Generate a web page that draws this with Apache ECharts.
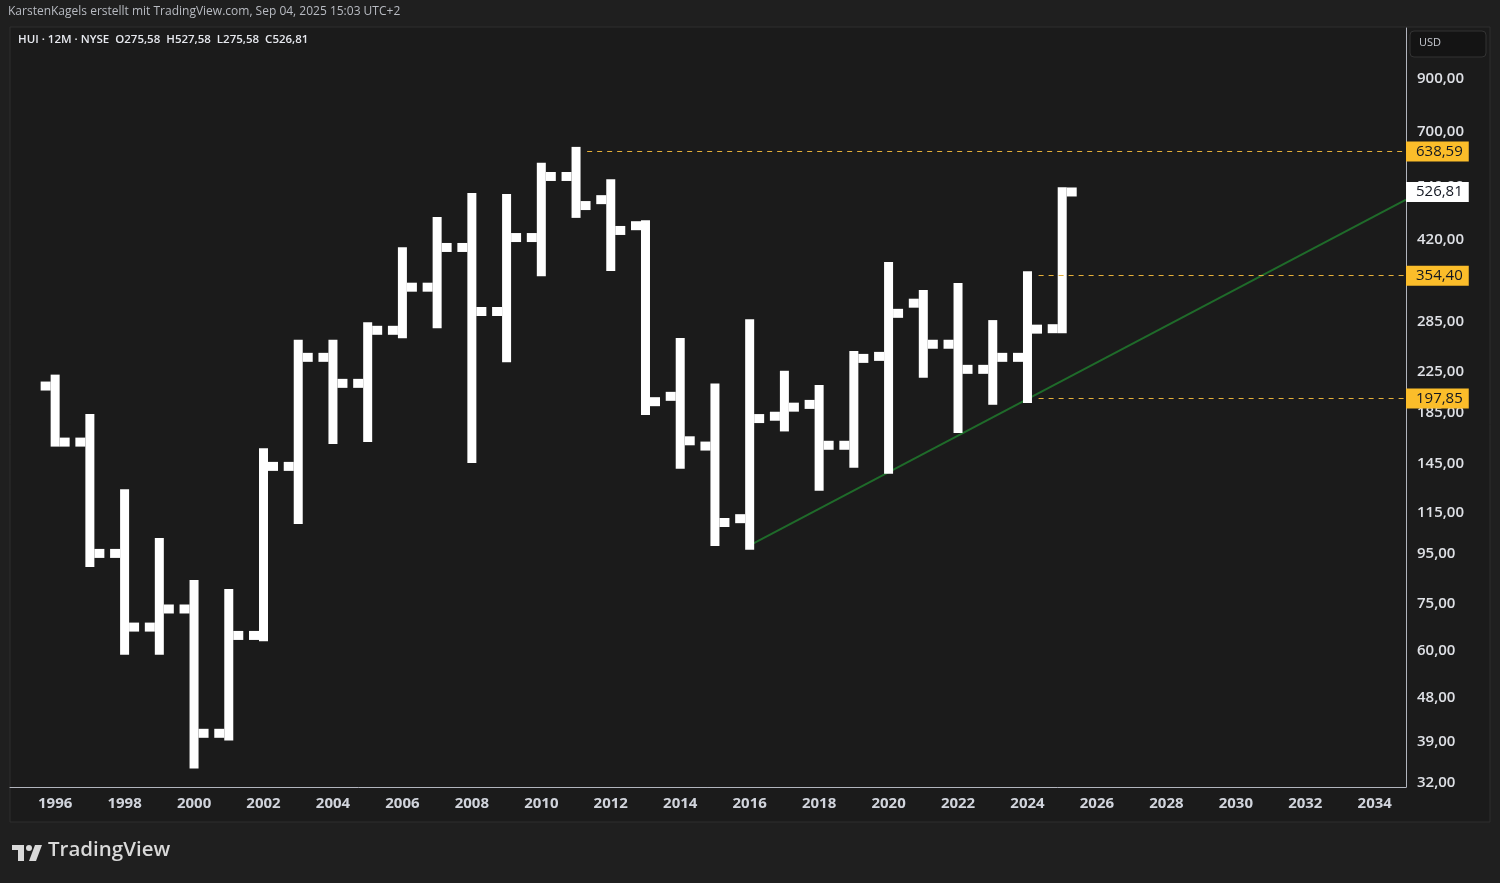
<!DOCTYPE html>
<html>
<head>
<meta charset="utf-8">
<title>HUI 12M</title>
<script src="https://cdn.jsdelivr.net/npm/echarts@6/dist/echarts.min.js"></script>
<style>
    html, body { margin: 0; padding: 0; background: #1f1f1f; }
    #chart { width: 1500px; height: 883px; }
</style>
</head>
<body>
<div id="chart"></div>
<script>
// yearly bars
var years  = [1996, 1997, 1998, 1999, 2000, 2001, 2002, 2003, 2004, 2005,
              2006, 2007, 2008, 2009, 2010, 2011, 2012, 2013, 2014, 2015,
              2016, 2017, 2018, 2019, 2020, 2021, 2022, 2023, 2024, 2025];
var opens  = [210, 161, 95, 67, 73, 40.5, 64.4, 143.5, 240.6, 212.7,
              273.5, 335.5, 405, 299, 424.5, 567, 508, 449, 200, 158,
              112, 182, 192.5, 158.6, 241.7, 311, 256, 227.3, 240.6, 275.58];
var highs  = [217, 180, 126, 100, 82, 78.6, 153, 256, 256, 278,
              397, 458, 513, 511, 592, 638.59, 548, 451, 258, 208,
              282, 221, 206.5, 242.6, 370, 324, 335, 281, 354.40, 527.58];
var lows   = [161, 91, 60, 60, 35, 40, 64, 111.5, 163, 164.5,
              269, 282, 149, 240, 361, 476, 370, 187, 145, 100.5,
              98.7, 173, 130.6, 145.6, 141.6, 223, 171.7, 196.3, 197.85, 275.58];
var closes = [161, 95, 67, 73, 40.5, 64.4, 143.5, 240.6, 212.7, 273.5,
              335.5, 405, 299, 424.5, 567, 494, 439, 195, 162, 110,
              180, 190, 158.6, 239.4, 296.4, 256, 227.3, 240.6, 275, 526.81];

// price axis and time axis labels
var priceTicks = [32, 39, 48, 60, 75, 95, 115, 145, 185, 225, 285, 420, 540, 700, 900];
var yearTicks = [1996, 1998, 2000, 2002, 2004, 2006, 2008, 2010, 2012, 2014, 2016,
                 2018, 2020, 2022, 2024, 2026, 2028, 2030, 2032, 2034];

// horizontal levels (start year, price)
var levelYears  = [2011, 2024, 2024];
var levelPrices = [638.59, 354.40, 197.85];

// trend line through the lows
var trendX = [2016, 2034.9];
var trendY = [98.7, 508];

var xMin = 1994.7, xMax = 2034.9;

(function () {
    let chart = echarts.init(document.querySelector("#chart"));

    function fmt(v) {
        return v.toFixed(2).replace('.', ',');
    }

    var bars = years.map(function (y, i) {
        return [y, opens[i], highs[i], lows[i], closes[i]];
    });

    function renderItem(params, api) {
        var x = api.value(0);
        var pO = api.coord([x, api.value(1)]);
        var pH = api.coord([x, api.value(2)]);
        var pL = api.coord([x, api.value(3)]);
        var pC = api.coord([x, api.value(4)]);
        var half = 4.5, tick = 10;
        var style = { fill: '#ffffff' };
        return {
            type: 'group',
            children: [
                { type: 'rect', shape: { x: pH[0] - half, y: pH[1] - half, width: half * 2, height: pL[1] - pH[1] + half * 2 }, style: style },
                { type: 'rect', shape: { x: pO[0] - half - tick, y: pO[1] - half, width: tick, height: half * 2 }, style: style },
                { type: 'rect', shape: { x: pC[0] + half, y: pC[1] - half, width: tick, height: half * 2 }, style: style }
            ]
        };
    }

    function tagLabel(bg) {
        return {
            show: true,
            position: 'end',
            distance: 0,
            formatter: function (p) { return fmt(p.value); },
            backgroundColor: bg,
            color: '#131722',
            fontFamily: 'Open Sans',
            fontSize: 15,
            lineHeight: 17,
            padding: [2, 6, 1, 10]
        };
    }

    var levelLines = levelPrices.map(function (v, i) {
        return [
            { coord: [levelYears[i] + 0.32, v], value: v },
            { coord: [xMax, v], value: v }
        ];
    });

    var last = years.length - 1;
    var curLine = [
        { coord: [years[last] + 0.32, closes[last]], value: closes[last] },
        { coord: [xMax, closes[last]], value: closes[last] }
    ];

    var legendText = 'HUI · 12M · NYSE  O' + fmt(opens[last]) + '  H' + fmt(highs[last]) +
        '  L' + fmt(lows[last]) + '  C' + fmt(closes[last]);

    let option = {
        backgroundColor: '#1f1f1f',
        animation: false,
        textStyle: { fontFamily: 'Open Sans' },
        graphic: [
            { type: 'rect', z: -10, shape: { x: 10, y: 27, width: 1480, height: 795 }, style: { fill: '#1b1b1b', stroke: '#2e2e2e', lineWidth: 1 } },
            { type: 'text', left: 8, top: 6, style: { text: 'KarstenKagels erstellt mit TradingView.com, Sep 04, 2025 15:03 UTC+2', fill: '#b8bbc2', font: '12px "Open Sans"' } },
            { type: 'text', left: 18, top: 34, style: { text: legendText, fill: '#e6e8ee', font: '600 11.5px "Open Sans"' } },
            { type: 'rect', shape: { x: 1410, y: 31, width: 76, height: 26, r: 4 }, style: { fill: '#141414', stroke: '#333333', lineWidth: 1 } },
            { type: 'text', left: 1419, top: 37, style: { text: 'USD', fill: '#c8cbd2', font: '11px "Open Sans"' } },
            // TradingView logo
            { type: 'rect', shape: { x: 12, y: 845, width: 12, height: 5 }, style: { fill: '#d9d9d9' } },
            { type: 'rect', shape: { x: 18, y: 845, width: 6, height: 16 }, style: { fill: '#d9d9d9' } },
            { type: 'circle', shape: { cx: 29, cy: 848, r: 3 }, style: { fill: '#d9d9d9' } },
            { type: 'polygon', shape: { points: [[35, 845], [42, 845], [36, 861], [29, 861]] }, style: { fill: '#d9d9d9' } },
            { type: 'text', left: 48, top: 840, style: { text: 'TradingView', fill: '#d9d9d9', font: '600 20.5px "Open Sans"' } }
        ],
        grid: {
            left: 10,
            right: 94,
            top: 28,
            bottom: 96
        },
        xAxis: {
            type: 'value',
            min: xMin,
            max: xMax,
            axisLine: { show: true, lineStyle: { color: '#b2b5be', width: 1 } },
            axisTick: { show: false },
            splitLine: { show: false },
            axisLabel: {
                customValues: yearTicks,
                color: '#d1d4dc',
                fontSize: 15,
                fontWeight: 'bold',
                margin: 9,
                formatter: function (v) { return String(v); }
            }
        },
        yAxis: {
            type: 'log',
            position: 'right',
            min: 31.4,
            max: 1146,
            axisLine: { show: true, lineStyle: { color: '#b2b5be', width: 1 } },
            axisTick: { show: false },
            splitLine: { show: false },
            axisLabel: {
                customValues: priceTicks,
                color: '#dfe1e6',
                fontSize: 15,
                fontWeight: 600,
                margin: 11,
                formatter: function (v) { return fmt(v); }
            }
        },
        series: [
            {
                name: 'HUI',
                type: 'custom',
                renderItem: renderItem,
                encode: { x: 0, y: [1, 2, 3, 4] },
                data: bars,
                z: 3
            },
            {
                name: 'trend',
                type: 'line',
                data: trendX.map(function (x, i) { return [x, trendY[i]]; }),
                symbol: 'none',
                lineStyle: { color: '#1f6b2a', width: 2 },
                z: 2,
                markLine: {
                    silent: true,
                    symbol: ['none', 'none'],
                    lineStyle: { color: '#e6b03a', type: [5, 5], width: 1 },
                    label: tagLabel('#fbbd2a'),
                    data: levelLines
                }
            },
            {
                name: 'last',
                type: 'line',
                data: [],
                markLine: {
                    silent: true,
                    symbol: ['none', 'none'],
                    lineStyle: { color: 'transparent', width: 0 },
                    label: tagLabel('#ffffff'),
                    data: [curLine]
                }
            }
        ]
    };
    chart.setOption(option);
})();
</script>
</body>
</html>
